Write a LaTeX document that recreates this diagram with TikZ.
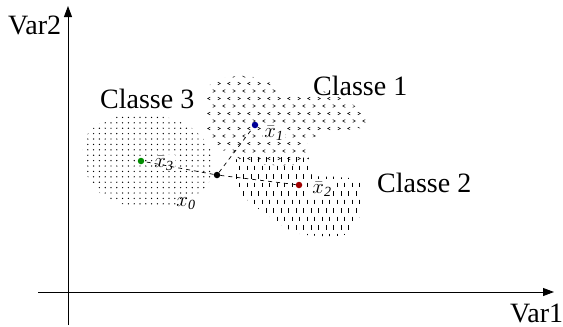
\documentclass[tikz,border=0pt]{standalone}
\usepackage{fontspec}
\setmainfont{Liberation Serif}
\newfontfamily\tnr{Liberation Serif}
\usetikzlibrary{arrows.meta}
\begin{document}
\begin{tikzpicture}[x=1pt,y=-1pt,
  axis/.style={line width=0.9pt,-{Triangle[length=11pt,width=8pt]}},
  lbl/.style={font=\tnr\fontsize{28}{30}\selectfont, inner sep=0pt, anchor=base west},
  ptlbl/.style={font=\tnr\fontsize{20}{22}\selectfont, inner sep=1pt, fill=white},
  pt/.style={circle, inner sep=0pt, minimum size=6.5pt},
  link/.style={line width=0.7pt, dash pattern=on 4pt off 4pt},
  chev/.style={line width=0.55pt},
  vdash/.style={line width=0.75pt}]
\useasboundingbox (0,0) rectangle (563,327);
\definecolor{cgreen}{RGB}{0,140,0}
\definecolor{cblue}{RGB}{0,0,150}
\definecolor{cred}{RGB}{160,0,0}

% axes
\coordinate (yb) at (68,325);
\coordinate (yt) at (68,6);
\coordinate (xl) at (38,292);
\coordinate (xr) at (554,292);
\draw[axis] (yb) -- (yt);
\draw[axis] (xl) -- (xr);
\node[lbl] (var2) at (8,34) {Var2};
\node[lbl] (var1) at (510,322) {Var1};

% Classe 3 region: dots
\begin{scope}
\clip plot[smooth cycle] coordinates {(84,140) (102,122) (130,114) (162,116) (192,128) (211,150) (213,172) (202,191) (172,206) (130,206) (100,193) (85,170)};
\foreach \i in {0,...,23}
  \foreach \j in {0,...,18}
    \fill ({82+5.8*\i},{112+5.4*\j}) circle (0.7pt);
\end{scope}

% Classe 1 region: chevrons
\begin{scope}
\clip plot[smooth cycle] coordinates {(212,82) (240,76) (265,80) (290,95) (330,92) (360,110) (372,125) (335,132) (308,140) (306,163) (255,164) (226,152) (208,135) (207,102)};
\foreach \i in {0,...,17}
  \foreach \j in {0,...,12}{
    \pgfmathsetmacro{\cx}{204+10*\i+5*mod(\j,2)}
    \pgfmathsetmacro{\cy}{76+7.5*\j}
    \ifodd\i
      \draw[chev] (\cx-1.3,\cy-1.4) -- (\cx+1.3,\cy) -- (\cx-1.3,\cy+1.4);
    \else
      \draw[chev] (\cx+1.3,\cy-1.4) -- (\cx-1.3,\cy) -- (\cx+1.3,\cy+1.4);
    \fi
  }
\end{scope}

% Classe 2 region: vertical dashes
\begin{scope}
\clip plot[smooth cycle] coordinates {(238,158) (302,157) (312,175) (338,177) (360,182) (361,210) (348,234) (300,234) (270,217) (250,202) (238,190)};
\foreach \i in {0,...,17}
  \foreach \j in {0,...,9}
    \draw[vdash] ({236+7.5*\i+3.75*mod(\j,2)},{157+8.5*\j}) -- ++(0,4.5);
\end{scope}

\node[lbl] (c3) at (100,108) {Classe 3};
\node[lbl] (c1) at (313,95) {Classe 1};
\node[lbl] (c2) at (377,192) {Classe 2};

% point labels
\node[ptlbl] (l1) at (274,133) {$\bar{x}_{\mathit{1}}$};
\node[ptlbl] (l2) at (322,189) {$\bar{x}_{\mathit{2}}$};
\node[ptlbl] (l3) at (164,163) {$\bar{x}_{\mathit{3}}$};
\node[ptlbl, fill=none] (l0) at (186,204) {$x_{\mathit{0}}$};

% points
\node[pt, fill=black] (x0) at (217,175) {};
\node[pt, fill=cgreen] (g) at (141,161) {};
\node[pt, fill=cblue] (b) at (255,125) {};
\node[pt, fill=cred] (r) at (299,185) {};

% dashed links
\draw[link] (x0) -- (g);
\draw[link] (x0) -- (r);
\draw[link] (x0) -- (b);
\end{tikzpicture}
\end{document}
